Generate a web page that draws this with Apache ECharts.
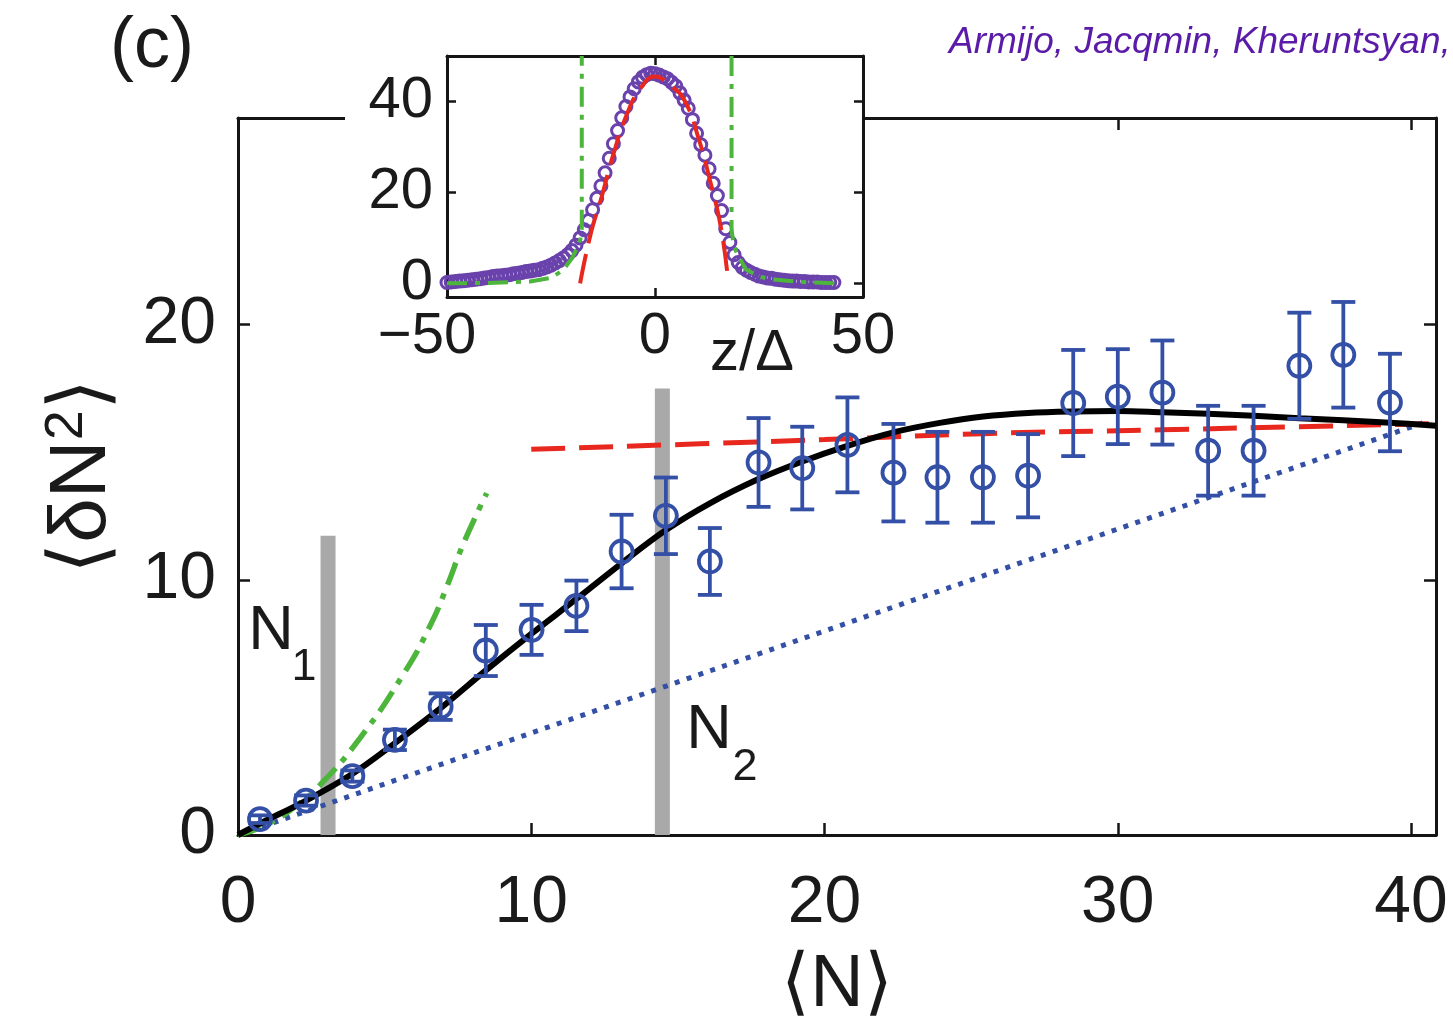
<!DOCTYPE html>
<html><head><meta charset="utf-8">
<script src="https://cdn.jsdelivr.net/npm/echarts@6/dist/echarts.min.js"></script>
<style>html,body{margin:0;padding:0;background:#fff}#c{width:1453px;height:1031px}</style>
</head><body><div id="c"></div>
<script>
const FONT = "'Liberation Sans', Arial, Helvetica, sans-serif";

// ---- tick labels ----
const mainXLabels = [0, 10, 20, 30, 40];
const mainXTicks = [10, 20, 30, 40];
const mainYLabels = [0, 10, 20];
const mainYTicks = [10, 20];
const insetXLabels = [-50, 0, 50];
const insetXTicks = [0];
const insetYLabels = [0, 20, 40];
const insetYTicks = [20, 40];

// ---- main panel data: [<N>, <dN^2>, error half-length] ----
const measured = [
  [0.75, 0.62, 0.15], [2.32, 1.35, 0.2], [3.9, 2.31, 0.22], [5.35, 3.73, 0.4],
  [6.91, 5.03, 0.52], [8.45, 7.23, 1.0], [10.01, 8.04, 0.98], [11.54, 8.98, 0.99],
  [13.08, 11.11, 1.44], [14.59, 12.51, 1.5], [16.09, 10.72, 1.31], [17.75, 14.6, 1.74],
  [19.24, 14.38, 1.62], [20.78, 15.29, 1.86], [22.35, 14.2, 1.91], [23.85, 14.02, 1.78],
  [25.4, 14.02, 1.78], [26.94, 14.08, 1.63], [28.48, 16.93, 2.08], [30.0, 17.18, 1.86],
  [31.52, 17.34, 2.04], [33.08, 15.06, 1.76], [34.63, 15.06, 1.76], [36.19, 18.39, 2.08],
  [37.69, 18.82, 2.07], [39.28, 16.95, 1.91]
];
const theory = [
  [0, 0], [0.75, 0.45], [2.32, 1.35], [3.88, 2.38], [5.35, 3.6], [6.91, 4.97],
  [8.45, 6.45], [10.02, 7.9], [11.54, 9.25], [13.08, 10.65], [14.59, 11.95],
  [16.09, 13.0], [17.75, 13.95], [19.24, 14.64], [20.78, 15.25], [22.35, 15.78],
  [23.93, 16.15], [25.41, 16.4], [26.94, 16.54], [28.47, 16.6], [30.0, 16.62],
  [31.52, 16.57], [33.07, 16.51], [34.63, 16.43], [36.19, 16.33], [37.69, 16.25],
  [39.28, 16.16], [40.85, 16.04]
];
const quasiCondensate = [[10, 15.12], [15.75, 15.33], [20, 15.5], [25.41, 15.73], [31.5, 15.88], [36.05, 16.0], [40.85, 16.12]];
const idealBose = [[0, 0], [1, 0.42], [2, 1.16], [2.8, 1.96], [4.16, 3.8], [5.64, 6.3], [6.55, 8.2], [7.11, 9.7], [7.68, 11.4], [8.48, 13.4]];
const poisson = [[0, 0], [40.4, 16.15]];
const barN1 = [[3.07, 0], [3.07, 11.73]];
const barN2 = [[14.47, 0], [14.47, 17.5]];

// ---- inset data: [z/Delta, density] ----
const insetProfile = [
  [-50,0.2],[-49,0.3],[-48,0.4],[-47,0.5],[-46,0.6],[-45,0.7],[-44,0.8],[-43,0.9],[-42,1.0],[-41,1.2],
  [-40,1.3],[-39,1.5],[-38,1.6],[-37,1.7],[-36,1.8],[-35,1.9],[-34,2.1],[-33,2.2],[-32,2.4],[-31,2.6],
  [-30,2.7],[-29,2.9],[-28,3.0],[-27,3.3],[-26,3.6],[-25,4.0],[-24,4.5],[-23,5.0],[-22,5.6],[-21,6.3],
  [-20,7.2],[-19,8.4],[-18,10.0],[-17,11.8],[-16,13.8],[-15,16.2],[-14,18.7],[-13,21.4],[-12,24.3],[-11,27.5],
  [-10,30.7],[-9,33.6],[-8,36.4],[-7,38.9],[-6,41.0],[-5,42.8],[-4,44.3],[-3,45.3],[-2,45.9],[-1,46.2],
  [0,46.1],[1,45.8],[2,45.4],[3,45.0],[4,44.2],[5,43.4],[6,41.9],[7,40.3],[8,38.5],[9,36.0],
  [10,33.0],[11,30.5],[12,28.2],[13,25.2],[14,22.0],[15,19.3],[16,16.0],[17,12.0],[18,9.0],[19,6.3],
  [20,4.6],[21,3.5],[22,2.9],[23,2.4],[24,2.0],[25,1.6],[26,1.4],[27,1.2],[28,1.1],[29,0.9],
  [30,0.8],[31,0.7],[32,0.6],[33,0.5],[34,0.5],[35,0.4],[36,0.4],[37,0.3],[38,0.3],[39,0.3],
  [40,0.2],[41,0.2],[42,0.2],[43,0.2]
];
const insetThomasFermi = [[-18, 0], [-15.4, 11.1], [-12.8, 19.1], [-10.2, 27.8], [-6.7, 37.3], [-3.3, 43.1], [0, 45.5], [3.3, 43.8], [7.1, 40.2], [10.6, 31.5], [13.2, 22.7], [15.8, 12.5], [17.5, 1.2]];
const insetIdealLeft = [[-50, 0], [-40, 0.1], [-30, 0.4], [-25, 1.2], [-22, 3.0], [-20, 5.5], [-18.6, 8.0], [-17.9, 9.8], [-17.6, 12], [-17.6, 50]];
const insetIdealRight = [[18.4, 50], [18.4, 12], [18.7, 9.8], [19.5, 7.0], [21.8, 3.1], [25, 1.5], [28, 0.9], [35, 0.3], [43.4, 0]];

const BLUE = '#3450a6', RED = '#e8281e', GREEN = '#4db53c', GRAY = '#a9a9a9', PURPLE = '#6a42ac', INK = '#151515';

function ax(grid, pos, min, max, labels, ticks, showLabel, fs, margin, tickLen, extra) {
  return Object.assign({
    type: 'value', gridIndex: grid, position: pos, min: min, max: max, z: grid === 1 ? 5 : 0,
    axisLine: { show: true, onZero: false, lineStyle: { color: INK, width: 3 } },
    axisTick: { show: true, inside: true, length: tickLen, lineStyle: { color: INK, width: 2.5 }, customValues: ticks },
    axisLabel: { show: showLabel, customValues: labels, fontSize: fs, fontFamily: FONT, color: '#1a1a1a', margin: margin },
    splitLine: { show: false }
  }, extra || {});
}
function txt(x, y, text, font, fill, align) {
  return { type: 'text', z: 10, x: x, y: y, style: { text: text, font: font, fill: fill || '#1a1a1a',
    align: align || 'center', verticalAlign: 'middle', textAlign: align || 'center', textVerticalAlign: 'middle' } };
}

const chart = echarts.init(document.getElementById('c'));
const option = {
  animation: false,
  backgroundColor: '#fff',
  grid: [
    { left: 238, right: 17, top: 118, bottom: 196, z: 0 },
    { left: 447, top: 56, width: 416, height: 241, z: 5 }
  ],
  xAxis: [
    ax(0, 'bottom', 0, 40.85, mainXLabels, mainXTicks, true, 66, 36, 12, {
      name: '⟨N⟩', nameLocation: 'middle', nameGap: 114,
      nameTextStyle: { fontSize: 74, fontFamily: FONT, color: '#1a1a1a' }
    }),
    ax(0, 'top', 0, 40.85, mainXLabels, mainXTicks, false, 66, 30, 12),
    ax(1, 'bottom', -50, 50, insetXLabels, insetXTicks, true, 58, 11, 9, {
      axisLabel: {
        show: true, customValues: insetXLabels, fontSize: 58, fontFamily: FONT, color: '#1a1a1a', margin: 11,
        formatter: function (v) { return v < 0 ? '{m|−' + Math.abs(v) + '}' : String(v); },
        rich: { m: { fontSize: 58, fontFamily: FONT, color: '#1a1a1a', padding: [0, 40, 0, 0] } }
      }
    }),
    ax(1, 'top', -50, 50, insetXLabels, insetXTicks, false, 58, 12, 9)
  ],
  yAxis: [
    ax(0, 'left', 0, 28.1, mainYLabels, mainYTicks, true, 66, 22, 12, {
      name: '⟨δN{s|2}⟩', nameLocation: 'middle', nameGap: 112, nameRotate: 90,
      nameTextStyle: { fontSize: 80, fontFamily: FONT, color: '#1a1a1a', rich: { s: { fontSize: 54, fontFamily: FONT, color: '#1a1a1a', padding: [0, 0, 32, 0] } } }
    }),
    ax(0, 'right', 0, 28.1, mainYLabels, [0, 10, 20], false, 66, 22, 12),
    ax(1, 'left', -3, 50, insetYLabels, insetYTicks, true, 58, 14, 9),
    ax(1, 'right', -3, 50, insetYLabels, [0, 20, 40], false, 58, 14, 9)
  ],
  graphic: [
    { type: 'rect', z: 1, shape: { x: 345, y: 26, width: 520, height: 362 }, style: { fill: '#fff' } },
    txt(152, 47, '(c)', '72px ' + FONT),
    txt(949, 43, 'Armijo, Jacqmin, Kheruntsyan,', 'italic 37px ' + FONT, '#5a1ba8', 'left'),
    txt(752, 354, 'z/Δ', '58px ' + FONT),
    txt(271, 632, 'N', '63px ' + FONT),
    txt(304, 668, '1', '45px ' + FONT),
    txt(709, 731, 'N', '63px ' + FONT),
    txt(745, 768, '2', '45px ' + FONT)
  ],
  series: [
    { type: 'line', xAxisIndex: 0, yAxisIndex: 0, data: barN1, symbol: 'none', z: 1, lineStyle: { color: GRAY, width: 15, cap: 'butt' } },
    { type: 'line', xAxisIndex: 0, yAxisIndex: 0, data: barN2, symbol: 'none', z: 1, lineStyle: { color: GRAY, width: 15, cap: 'butt' } },
    { type: 'line', xAxisIndex: 0, yAxisIndex: 0, data: poisson, symbol: 'none', z: 2, lineStyle: { color: BLUE, width: 5, type: [5, 7.5] } },
    { type: 'line', xAxisIndex: 0, yAxisIndex: 0, data: idealBose, symbol: 'none', smooth: true, z: 2, lineStyle: { color: GREEN, width: 5.5, type: [24, 9, 6, 9] } },
    { type: 'line', xAxisIndex: 0, yAxisIndex: 0, data: quasiCondensate, symbol: 'none', smooth: true, z: 2, lineStyle: { color: RED, width: 5, type: [34, 14] } },
    { type: 'line', xAxisIndex: 0, yAxisIndex: 0, data: theory, symbol: 'none', smooth: 0.35, z: 3, lineStyle: { color: '#000', width: 6 } },
    {
      type: 'custom', xAxisIndex: 0, yAxisIndex: 0, data: measured, z: 4,
      renderItem: function (params, api) {
        const x = api.value(0), y = api.value(1), e = api.value(2);
        const t = api.coord([x, y + e]), b = api.coord([x, y - e]);
        const hw = 12, st = { stroke: BLUE, lineWidth: 3.8 };
        return { type: 'group', children: [
          { type: 'line', shape: { x1: t[0], y1: t[1], x2: b[0], y2: b[1] }, style: st },
          { type: 'line', shape: { x1: t[0] - hw, y1: t[1], x2: t[0] + hw, y2: t[1] }, style: st },
          { type: 'line', shape: { x1: b[0] - hw, y1: b[1], x2: b[0] + hw, y2: b[1] }, style: st }
        ] };
      }
    },
    { type: 'scatter', xAxisIndex: 0, yAxisIndex: 0, data: measured.map(d => [d[0], d[1]]), symbol: 'circle', symbolSize: 22, z: 5,
      itemStyle: { color: 'rgba(0,0,0,0)', borderColor: BLUE, borderWidth: 3.8, opacity: 1 } },

    { type: 'scatter', xAxisIndex: 2, yAxisIndex: 2, data: insetProfile, symbol: 'circle', symbolSize: 12, z: 6,
      itemStyle: { color: 'rgba(0,0,0,0)', borderColor: PURPLE, borderWidth: 3, opacity: 1 } },
    { type: 'line', xAxisIndex: 2, yAxisIndex: 2, data: insetThomasFermi, symbol: 'none', smooth: true, z: 7, lineStyle: { color: RED, width: 4, type: [30, 11] } },
    { type: 'line', xAxisIndex: 2, yAxisIndex: 2, data: insetIdealLeft, symbol: 'none', z: 7, lineStyle: { color: GREEN, width: 4, type: [20, 8, 5, 8] } },
    { type: 'line', xAxisIndex: 2, yAxisIndex: 2, data: insetIdealRight, symbol: 'none', z: 7, lineStyle: { color: GREEN, width: 4, type: [20, 8, 5, 8] } }
  ]
};
chart.setOption(option);
</script></body></html>
